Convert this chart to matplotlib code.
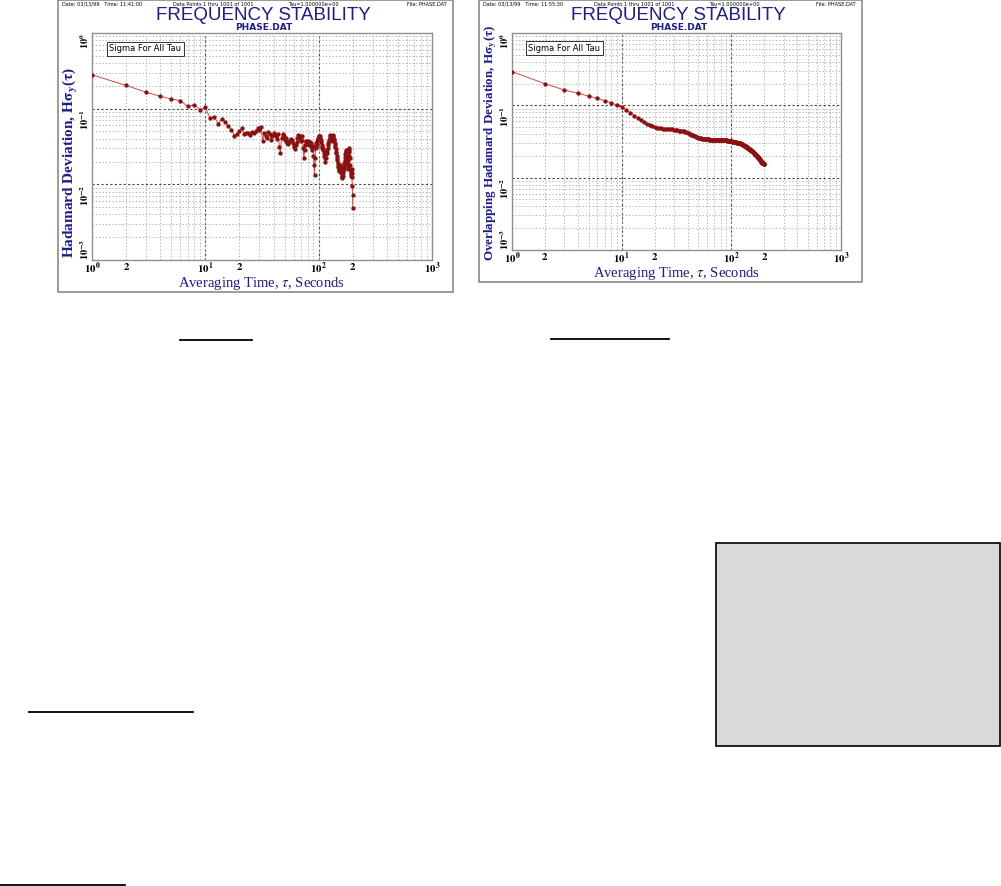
import matplotlib
matplotlib.use("Agg")
import matplotlib.pyplot as plt
from matplotlib.patches import Rectangle
from matplotlib.lines import Line2D
from matplotlib.ticker import FixedLocator, NullFormatter, LogLocator

plt.rcParams['mathtext.fontset'] = 'stix'

# Hadamard deviation, tau = 1 .. 200 s
tau = list(range(1, 201))
hdev = [
    0.280, 0.203, 0.165, 0.146, 0.134, 0.128, 0.107, 0.113, 0.096, 0.104,
    0.075, 0.078, 0.063, 0.074, 0.067, 0.059, 0.052, 0.044, 0.046, 0.050,
    0.055, 0.046, 0.048, 0.047, 0.045, 0.049, 0.047, 0.051, 0.055, 0.052,
    0.057, 0.037, 0.047, 0.044, 0.041, 0.049, 0.046, 0.039, 0.044, 0.048,
    0.045, 0.043, 0.040, 0.046, 0.031, 0.026, 0.041, 0.046, 0.043, 0.039,
    0.041, 0.037, 0.035, 0.034, 0.036, 0.038, 0.040, 0.038, 0.035, 0.033,
    0.031, 0.029, 0.033, 0.036, 0.041, 0.045, 0.043, 0.044, 0.040, 0.037,
    0.043, 0.038, 0.030, 0.022, 0.028, 0.033, 0.036, 0.037, 0.034, 0.036,
    0.037, 0.035, 0.033, 0.036, 0.035, 0.032, 0.030, 0.028, 0.032, 0.024,
    0.018, 0.0133, 0.022, 0.030, 0.035, 0.033, 0.037, 0.040, 0.041, 0.043,
    0.044, 0.043, 0.041, 0.038, 0.036, 0.033, 0.030, 0.031, 0.030, 0.028,
    0.026, 0.024, 0.022, 0.020, 0.022, 0.025, 0.027, 0.026, 0.028, 0.030,
    0.033, 0.035, 0.037, 0.039, 0.041, 0.043, 0.045, 0.044, 0.042, 0.040,
    0.037, 0.039, 0.042, 0.045, 0.043, 0.040, 0.038, 0.035, 0.033, 0.031,
    0.029, 0.027, 0.026, 0.024, 0.022, 0.021, 0.019, 0.018, 0.017, 0.016,
    0.0155, 0.015, 0.016, 0.017, 0.018, 0.017, 0.016, 0.0147, 0.014, 0.013,
    0.0125, 0.0122, 0.013, 0.014, 0.015, 0.016, 0.017, 0.018, 0.019, 0.021,
    0.023, 0.025, 0.027, 0.028, 0.027, 0.025, 0.023, 0.021, 0.019, 0.017,
    0.016, 0.018, 0.021, 0.024, 0.028, 0.030, 0.027, 0.022, 0.018, 0.016,
    0.015, 0.014, 0.0135, 0.013, 0.014, 0.016, 0.0125, 0.0095, 0.0072, 0.0048,
]

# Overlapping Hadamard deviation, tau = 1 .. 200 s
ohdev = [
    0.292, 0.199, 0.163, 0.147, 0.134, 0.125, 0.116, 0.108, 0.101, 0.095,
    0.087, 0.079, 0.072, 0.067, 0.063, 0.058, 0.055, 0.053, 0.051, 0.050,
    0.049, 0.0485, 0.048, 0.0478, 0.0475, 0.0472, 0.047, 0.0467, 0.0465, 0.046,
    0.0455, 0.045, 0.0446, 0.0443, 0.044, 0.0438, 0.0436, 0.0432, 0.0425, 0.042,
    0.041, 0.0402, 0.0395, 0.039, 0.0384, 0.038, 0.0374, 0.0368, 0.0362, 0.0358,
    0.0353, 0.035, 0.0348, 0.0346, 0.0344, 0.0342, 0.0341, 0.034, 0.034, 0.0339,
    0.0338, 0.0338, 0.0337, 0.0337, 0.0336, 0.0336, 0.0336, 0.0335, 0.0335, 0.0335,
    0.0335, 0.0334, 0.0334, 0.0334, 0.0333, 0.0333, 0.0333, 0.0332, 0.0332, 0.0332,
    0.0331, 0.0331, 0.0331, 0.033, 0.033, 0.033, 0.0329, 0.0329, 0.0328, 0.0328,
    0.0327, 0.0326, 0.0325, 0.0324, 0.0323, 0.0322, 0.0321, 0.032, 0.0319, 0.0318,
    0.0317, 0.0316, 0.0315, 0.0314, 0.0313, 0.0312, 0.0311, 0.031, 0.0309, 0.0308,
    0.0307, 0.0306, 0.0305, 0.0304, 0.0303, 0.0302, 0.0301, 0.030, 0.0299, 0.0297,
    0.0298, 0.0296, 0.0294, 0.0292, 0.029, 0.0288, 0.0286, 0.0284, 0.0282, 0.028,
    0.0278, 0.0276, 0.0274, 0.0272, 0.0271, 0.0269, 0.0267, 0.0265, 0.0263, 0.0261,
    0.0259, 0.0257, 0.0255, 0.0253, 0.0251, 0.0249, 0.0247, 0.0245, 0.0243, 0.0241,
    0.0239, 0.0237, 0.0235, 0.0233, 0.0231, 0.0229, 0.0227, 0.0225, 0.0223, 0.0221,
    0.0219, 0.0217, 0.0215, 0.0213, 0.0211, 0.0209, 0.0207, 0.0205, 0.0203, 0.0201,
    0.0199, 0.0197, 0.0195, 0.0193, 0.0191, 0.0189, 0.0187, 0.0185, 0.0183, 0.0181,
    0.0179, 0.0177, 0.0175, 0.0173, 0.0171, 0.0169, 0.0167, 0.0165, 0.0164, 0.0163,
    0.0162, 0.0161, 0.016, 0.0159, 0.0158, 0.0157, 0.0156, 0.0155, 0.0154, 0.0153,
]

x_ticks = [1, 2, 10, 20, 100, 200, 1000]
x_labels = [r'$\mathbf{10^0}$', r'$\mathbf{2}$', r'$\mathbf{10^1}$', r'$\mathbf{2}$',
            r'$\mathbf{10^2}$', r'$\mathbf{2}$', r'$\mathbf{10^3}$']
y_ticks = [1e-3, 1e-2, 1e-1, 1]
y_labels = [r'$\mathbf{10^{-3}}$', r'$\mathbf{10^{-2}}$', r'$\mathbf{10^{-1}}$', r'$\mathbf{10^0}$']

W, H = 1001, 886
NAVY = '#1c1c8e'
DARKRED = '#8b1010'
LINERED = '#d04848'

fig = plt.figure(figsize=(W / 100, H / 100), dpi=100)
fig.patch.set_facecolor('white')


def fx(x):
    return x / W


def fy(y):
    return 1 - y / H


def panel(x0, x1, y0, y1, frame, values, ylabel, ylabel_x, ylabel_y, ylabel_size, time_str):
    # outer grey frame of the screenshot
    fig.add_artist(Rectangle((fx(frame[0]), fy(frame[3])), (frame[1] - frame[0]) / W,
                             (frame[3] - frame[2]) / H, transform=fig.transFigure,
                             fill=False, edgecolor='#8a8a8a', lw=1.2))
    ax = fig.add_axes([fx(x0), fy(y1), (x1 - x0) / W, (y1 - y0) / H])
    ax.set_xscale('log')
    ax.set_yscale('log')
    ax.set_xlim(1, 1000)
    ax.set_ylim(1e-3, 1)
    ax.plot(tau, values, color=LINERED, lw=0.7, marker='o', ms=2.1,
            mfc=DARKRED, mec=DARKRED, zorder=3)

    ax.xaxis.set_major_locator(FixedLocator(x_ticks))
    ax.set_xticklabels(x_labels)
    ax.xaxis.set_minor_locator(LogLocator(base=10, subs=range(2, 10)))
    ax.xaxis.set_minor_formatter(NullFormatter())
    ax.yaxis.set_major_locator(FixedLocator(y_ticks))
    ax.set_yticklabels(y_labels, rotation=90)
    ax.yaxis.set_minor_locator(LogLocator(base=10, subs=range(2, 10)))
    ax.yaxis.set_minor_formatter(NullFormatter())
    ax.tick_params(which='both', length=0, pad=1)
    ax.tick_params(axis='x', labelsize=7.8, pad=0.5)
    ax.tick_params(axis='y', labelsize=7.5, pad=0.5)
    ylabs = ax.get_yticklabels()
    for i, lab in enumerate(ylabs):
        lab.set_va('bottom' if i == 0 else 'top')

    for d in [10, 100]:
        ax.axvline(d, color='#444444', lw=0.8, ls=(0, (2, 2)), zorder=1)
    for d in [1e-2, 1e-1]:
        ax.axhline(d, color='#444444', lw=0.8, ls=(0, (2, 2)), zorder=1)
    ax.grid(which='minor', color='#a0a0a0', lw=0.6, ls=(0, (1.5, 2.5)), zorder=0)
    ax.grid(which='major', axis='x', color='#a0a0a0', lw=0.6, ls=(0, (1.5, 2.5)), zorder=0)
    for s in ax.spines.values():
        s.set_color('#909090')
        s.set_linewidth(1.0)

    ax.text(0.05, 0.93, 'Sigma For All Tau', transform=ax.transAxes, fontsize=6,
            family='DejaVu Sans', va='center', ha='left',
            bbox=dict(boxstyle='square,pad=0.3', fc='white', ec='#333333', lw=0.7))

    cx = (frame[0] + frame[1]) / 2 + 8
    fig.text(fx(cx), fy(16), 'FREQUENCY STABILITY', ha='center', va='center',
             fontsize=13.5, color=NAVY, family='Liberation Sans')
    fig.text(fx(cx), fy(28), 'PHASE.DAT', ha='center', va='center', fontsize=6.5,
             color=NAVY, weight='bold', family='DejaVu Sans')
    fig.text(fx(frame[0] + 4), fy(4), 'Date: 03/13/99   Time: ' + time_str, fontsize=3.6,
             va='center', family='DejaVu Sans')
    fig.text(fx(frame[0] + 115), fy(4), 'Data Points 1 thru 1001 of 1001', fontsize=3.6,
             va='center', family='DejaVu Sans')
    fig.text(fx(frame[0] + 230), fy(4), 'Tau=1.000000e+00', fontsize=3.6,
             va='center', family='DejaVu Sans')
    fig.text(fx(frame[1] - 6), fy(4), 'File: PHASE.DAT', fontsize=3.6, ha='right',
             va='center', family='DejaVu Sans')

    fig.text(fx(ylabel_x), fy(ylabel_y), ylabel, rotation=90, ha='center', va='center',
             fontsize=ylabel_size, color=NAVY, weight='bold', family='Liberation Serif')
    fig.text(fx((x0 + x1) / 2), fy(y1 + 24), r'Averaging Time, $\tau$, Seconds',
             ha='center', va='center', fontsize=10.5, color=NAVY, family='Liberation Serif')
    return ax


panel(92, 432, 33, 260, (58, 453, 0, 292), hdev,
      r'Hadamard Deviation, H$\mathbf{\sigma_y}$($\mathbf{\tau}$)', 70, 162, 11, '11:41:00')
panel(512, 841, 33, 250, (479, 862, 0, 282), ohdev,
      r'Overlapping Hadamard Deviation, H$\mathbf{\sigma_y}$($\mathbf{\tau}$)', 491, 143, 9.4,
      '11:55:30')

# rest of the document page: underlines and a grey box
for (xa, xb, yy) in [(180, 252, 340), (551, 669, 339), (29, 193, 712), (0, 125, 885)]:
    fig.add_artist(Line2D([fx(xa), fx(xb)], [fy(yy), fy(yy)], transform=fig.transFigure,
                          color='black', lw=1.3))
fig.add_artist(Rectangle((fx(716), fy(746)), (1000 - 716) / W, (746 - 543) / H,
                         transform=fig.transFigure, facecolor='#d9d9d9',
                         edgecolor='black', lw=1.2))

fig.savefig('out.png', dpi=100, facecolor='white')
